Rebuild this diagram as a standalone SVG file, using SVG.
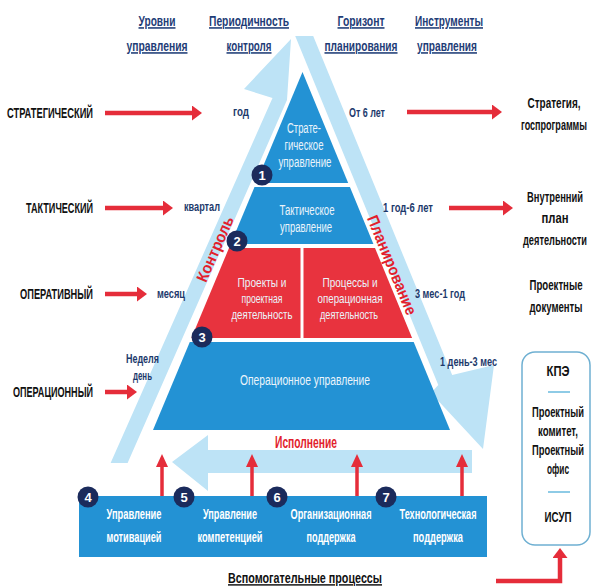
<svg xmlns="http://www.w3.org/2000/svg" width="592" height="588" viewBox="0 0 592 588">
<defs>
<style>
text{font-family:"Liberation Sans",Arial,sans-serif}
.hdr{font-weight:bold;font-size:15.5px;fill:#1f3d77;text-anchor:middle;text-decoration:underline}
.lvl{font-weight:bold;font-size:14px;fill:#111;text-anchor:end}
.per{font-weight:bold;font-size:13.5px;fill:#1d3a6c}
.pyr{font-size:15px;fill:#eaf4fb;text-anchor:middle}
.pyr2{font-size:13.5px;fill:#eaf4fb;text-anchor:middle}
.sup{font-weight:bold;font-size:14px;fill:#fff;text-anchor:middle}
.tool{font-weight:bold;font-size:14px;fill:#111;text-anchor:middle}
.num{font-weight:bold;font-size:13px;fill:#fff;text-anchor:middle}
.rt{font-weight:bold;font-size:16px;fill:#e21f2d;text-anchor:middle}
.blue{fill:#2392d4}
.red{fill:#e8333e}
.lb{fill:#bde3f6}
.circ{fill:#1b2b5c}
.ra{stroke:#e52d3a;stroke-width:4.5;fill:none}
.ua{stroke:#e52d3a;stroke-width:3.5;fill:none}
</style>
<marker id="rh" viewBox="0 0 10 15" refX="0" refY="7.5" markerWidth="10" markerHeight="15" markerUnits="userSpaceOnUse" orient="auto"><path d="M0,0 L10,7.5 L0,15 z" fill="#e52d3a"/></marker>
<marker id="uh" viewBox="0 0 13 12" refX="0" refY="6" markerWidth="13" markerHeight="12" markerUnits="userSpaceOnUse" orient="auto"><path d="M0,0 L13,6 L0,12 z" fill="#e52d3a"/></marker>
</defs>
<rect width="592" height="588" fill="#fff"/>

<g id="connectors">
<polygon id="control-arrow" class="lb" points="110.6,463 127.6,463 287,100 291,39 244,89 272.5,98"/>
<polygon id="planning-arrow" class="lb" points="295.2,36 313.2,36 452.2,375 494,365 483,449 431,393 438.3,385"/>
<polygon id="execution-arrow" class="lb" points="472,450 208,450 208,435 172,462 208,491 208,473 472,473"/>
<line class="ra" x1="105" y1="113" x2="192" y2="113" marker-end="url(#rh)"/>
<line class="ra" x1="105" y1="208" x2="163" y2="208" marker-end="url(#rh)"/>
<line class="ra" x1="105" y1="294" x2="137" y2="294" marker-end="url(#rh)"/>
<line class="ra" x1="105" y1="392" x2="127" y2="392" marker-end="url(#rh)"/>
<line class="ra" x1="407" y1="112" x2="492" y2="112" marker-end="url(#rh)"/>
<line class="ra" x1="449" y1="208" x2="503" y2="208" marker-end="url(#rh)"/>
<polyline class="ra" points="496,581 560,581 560,558" marker-end="url(#rh)"/>
</g>

<g id="headers">
<text class="hdr" transform="translate(157,26) scale(0.68,1)" textLength="54.4" lengthAdjust="spacingAndGlyphs">Уровни</text>
<text class="hdr" transform="translate(157,51) scale(0.68,1)" textLength="89.7" lengthAdjust="spacingAndGlyphs">управления</text>
<text class="hdr" transform="translate(249,26) scale(0.68,1)" textLength="117.6" lengthAdjust="spacingAndGlyphs">Периодичность</text>
<text class="hdr" transform="translate(249,51) scale(0.68,1)" textLength="66.2" lengthAdjust="spacingAndGlyphs">контроля</text>
<text class="hdr" transform="translate(361,26) scale(0.68,1)" textLength="69.1" lengthAdjust="spacingAndGlyphs">Горизонт</text>
<text class="hdr" transform="translate(361,51) scale(0.68,1)" textLength="107.4" lengthAdjust="spacingAndGlyphs">планирования</text>
<text class="hdr" transform="translate(449,26) scale(0.68,1)" textLength="100" lengthAdjust="spacingAndGlyphs">Инструменты</text>
<text class="hdr" transform="translate(447,51) scale(0.68,1)" textLength="88.2" lengthAdjust="spacingAndGlyphs">управления</text>
</g>

<g id="levels">
<text class="lvl" transform="translate(93,118) scale(0.62,1)" textLength="138.7" lengthAdjust="spacingAndGlyphs">СТРАТЕГИЧЕСКИЙ</text>
<text class="lvl" transform="translate(93,213) scale(0.62,1)" textLength="108.1" lengthAdjust="spacingAndGlyphs">ТАКТИЧЕСКИЙ</text>
<text class="lvl" transform="translate(93,299) scale(0.62,1)" textLength="117.7" lengthAdjust="spacingAndGlyphs">ОПЕРАТИВНЫЙ</text>
<text class="lvl" transform="translate(93,397) scale(0.62,1)" textLength="129" lengthAdjust="spacingAndGlyphs">ОПЕРАЦИОННЫЙ</text>
</g>

<g id="periods">
<text class="per" transform="translate(233,116) scale(0.68,1)" textLength="23.5" lengthAdjust="spacingAndGlyphs">год</text>
<text class="per" transform="translate(184,211) scale(0.68,1)" textLength="52.9" lengthAdjust="spacingAndGlyphs">квартал</text>
<text class="per" transform="translate(157,298) scale(0.68,1)" textLength="41.2" lengthAdjust="spacingAndGlyphs">месяц</text>
<text class="per" transform="translate(126,363) scale(0.68,1)" textLength="48.5" lengthAdjust="spacingAndGlyphs">Неделя</text>
<text class="per" transform="translate(133,380) scale(0.68,1)" textLength="27.9" lengthAdjust="spacingAndGlyphs">день</text>
<text class="per" transform="translate(349,117) scale(0.68,1)" textLength="52.9" lengthAdjust="spacingAndGlyphs">От 6 лет</text>
<text class="per" transform="translate(383,212) scale(0.68,1)" textLength="73.5" lengthAdjust="spacingAndGlyphs">1 год-6 лет</text>
<text class="per" transform="translate(415,298) scale(0.68,1)" textLength="73.5" lengthAdjust="spacingAndGlyphs">3 мес-1 год</text>
<text class="per" transform="translate(440,366) scale(0.68,1)" textLength="83.8" lengthAdjust="spacingAndGlyphs">1 день-3 мес</text>
</g>

<g id="tools">
<text class="tool" transform="translate(554,108) scale(0.68,1)" textLength="77.9" lengthAdjust="spacingAndGlyphs">Стратегия,</text>
<text class="tool" transform="translate(554,130) scale(0.68,1)" textLength="97.1" lengthAdjust="spacingAndGlyphs">госпрограммы</text>
<text class="tool" transform="translate(555,202) scale(0.68,1)" textLength="82.4" lengthAdjust="spacingAndGlyphs">Внутренний</text>
<text class="tool" transform="translate(555,223) scale(0.68,1)" textLength="39.7" lengthAdjust="spacingAndGlyphs">план</text>
<text class="tool" transform="translate(555,245) scale(0.68,1)" textLength="94.1" lengthAdjust="spacingAndGlyphs">деятельности</text>
<text class="tool" transform="translate(556,290) scale(0.68,1)" textLength="77.9" lengthAdjust="spacingAndGlyphs">Проектные</text>
<text class="tool" transform="translate(556,312) scale(0.68,1)" textLength="77.9" lengthAdjust="spacingAndGlyphs">документы</text>
</g>

<g id="tool-box">
<rect x="522" y="352" width="68" height="193" rx="13" fill="#fff" stroke="#6fb0d2" stroke-width="1.5"/>
<line x1="548" y1="392" x2="570" y2="392" stroke="#8ecbe6" stroke-width="2"/>
<line x1="548" y1="492" x2="570" y2="492" stroke="#8ecbe6" stroke-width="2"/>
<text class="tool" transform="translate(558,376) scale(0.68,1)" textLength="33.8" lengthAdjust="spacingAndGlyphs">КПЭ</text>
<text class="tool" transform="translate(558,417) scale(0.68,1)" textLength="76.5" lengthAdjust="spacingAndGlyphs">Проектный</text>
<text class="tool" transform="translate(558,436) scale(0.68,1)" textLength="58.8" lengthAdjust="spacingAndGlyphs">комитет,</text>
<text class="tool" transform="translate(558,455) scale(0.68,1)" textLength="76.5" lengthAdjust="spacingAndGlyphs">Проектный</text>
<text class="tool" transform="translate(558,474) scale(0.68,1)" textLength="32.4" lengthAdjust="spacingAndGlyphs">офис</text>
<text class="tool" transform="translate(558,522) scale(0.68,1)" textLength="39.7" lengthAdjust="spacingAndGlyphs">ИСУП</text>
</g>

<g id="strategic">
<polygon class="blue" points="302.5,72 348.2,183 256.1,183"/>
<text class="pyr" transform="translate(304,133) scale(0.68,1)" textLength="50" lengthAdjust="spacingAndGlyphs">Страте-</text>
<text class="pyr" transform="translate(304,150) scale(0.68,1)" textLength="57.4" lengthAdjust="spacingAndGlyphs">гическое</text>
<text class="pyr" transform="translate(305,167) scale(0.68,1)" textLength="77.9" lengthAdjust="spacingAndGlyphs">управление</text>
</g>
<g id="tactical">
<polygon class="blue" points="254.5,187 349.9,187 373.4,244 230.7,244"/>
<text class="pyr" transform="translate(307,215) scale(0.68,1)" textLength="80.9" lengthAdjust="spacingAndGlyphs">Тактическое</text>
<text class="pyr" transform="translate(306,232) scale(0.68,1)" textLength="76.5" lengthAdjust="spacingAndGlyphs">управление</text>
</g>
<g id="projects">
<polygon class="red" points="229,248 300.5,248 300.5,338 191.4,338"/>
<text class="pyr2" transform="translate(262,287) scale(0.68,1)" textLength="72.1" lengthAdjust="spacingAndGlyphs">Проекты и</text>
<text class="pyr2" transform="translate(262,303) scale(0.68,1)" textLength="60.3" lengthAdjust="spacingAndGlyphs">проектная</text>
<text class="pyr2" transform="translate(262,319) scale(0.68,1)" textLength="89.7" lengthAdjust="spacingAndGlyphs">деятельность</text>
</g>
<g id="processes">
<polygon class="red" points="303.5,248 375,248 412.1,338 303.5,338"/>
<text class="pyr2" transform="translate(350,287) scale(0.68,1)" textLength="80.9" lengthAdjust="spacingAndGlyphs">Процессы и</text>
<text class="pyr2" transform="translate(350,303) scale(0.68,1)" textLength="95.6" lengthAdjust="spacingAndGlyphs">операционная</text>
<text class="pyr2" transform="translate(349,319) scale(0.68,1)" textLength="85.3" lengthAdjust="spacingAndGlyphs">деятельность</text>
</g>
<g id="operational">
<polygon class="blue" points="189.8,342 413.7,342 450,430 153,430"/>
<text class="pyr" transform="translate(305,385) scale(0.68,1)" textLength="191.2" lengthAdjust="spacingAndGlyphs">Операционное управление</text>
</g>

<g id="arrow-labels">
<text class="rt" transform="translate(215,249) rotate(-66.2) scale(0.68,1)" y="5.5" textLength="102.9" lengthAdjust="spacingAndGlyphs">Контроль</text>
<text class="rt" transform="translate(392,265) rotate(67.7) scale(0.68,1)" y="5.5" textLength="155.9" lengthAdjust="spacingAndGlyphs">Планирование</text>
<text class="rt" transform="translate(306,448) scale(0.68,1)" font-size="15" textLength="91.2" lengthAdjust="spacingAndGlyphs">Исполнение</text>
</g>

<g id="support">
<rect class="blue" x="79" y="496" width="408" height="61"/>
<text class="sup" transform="translate(134,519) scale(0.68,1)" textLength="80.9" lengthAdjust="spacingAndGlyphs">Управление</text>
<text class="sup" transform="translate(134,542) scale(0.68,1)" textLength="80.9" lengthAdjust="spacingAndGlyphs">мотивацией</text>
<text class="sup" transform="translate(230,519) scale(0.68,1)" textLength="79.4" lengthAdjust="spacingAndGlyphs">Управление</text>
<text class="sup" transform="translate(230,542) scale(0.68,1)" textLength="95.6" lengthAdjust="spacingAndGlyphs">компетенцией</text>
<text class="sup" transform="translate(331,519) scale(0.68,1)" textLength="119.1" lengthAdjust="spacingAndGlyphs">Организационная</text>
<text class="sup" transform="translate(331,542) scale(0.68,1)" textLength="72.1" lengthAdjust="spacingAndGlyphs">поддержка</text>
<text class="sup" transform="translate(438,519) scale(0.68,1)" textLength="113.2" lengthAdjust="spacingAndGlyphs">Технологическая</text>
<text class="sup" transform="translate(438,542) scale(0.68,1)" textLength="73.5" lengthAdjust="spacingAndGlyphs">поддержка</text>
<text transform="translate(305,583) scale(0.68,1)" font-weight="bold" font-size="14.5" fill="#111" text-anchor="middle" text-decoration="underline" textLength="226.5" lengthAdjust="spacingAndGlyphs">Вспомогательные процессы</text>
</g>

<g id="up-arrows">
<line class="ua" x1="162" y1="496" x2="162" y2="467" marker-end="url(#uh)"/>
<line class="ua" x1="252" y1="496" x2="252" y2="467" marker-end="url(#uh)"/>
<line class="ua" x1="357" y1="496" x2="357" y2="467" marker-end="url(#uh)"/>
<line class="ua" x1="462" y1="496" x2="462" y2="467" marker-end="url(#uh)"/>
</g>

<g id="badges">
<g id="n1"><circle class="circ" cx="262" cy="175" r="10.5"/><text class="num" x="262" y="179.5">1</text></g>
<g id="n2"><circle class="circ" cx="237" cy="241" r="10.5"/><text class="num" x="237" y="245.5">2</text></g>
<g id="n3"><circle class="circ" cx="202" cy="337" r="10.5"/><text class="num" x="202" y="341.5">3</text></g>
<g id="n4"><circle class="circ" cx="88" cy="497" r="10.5"/><text class="num" x="88" y="501.5">4</text></g>
<g id="n5"><circle class="circ" cx="184" cy="497" r="10.5"/><text class="num" x="184" y="501.5">5</text></g>
<g id="n6"><circle class="circ" cx="277" cy="497" r="10.5"/><text class="num" x="277" y="501.5">6</text></g>
<g id="n7"><circle class="circ" cx="386" cy="497" r="10.5"/><text class="num" x="386" y="501.5">7</text></g>
</g>
</svg>
